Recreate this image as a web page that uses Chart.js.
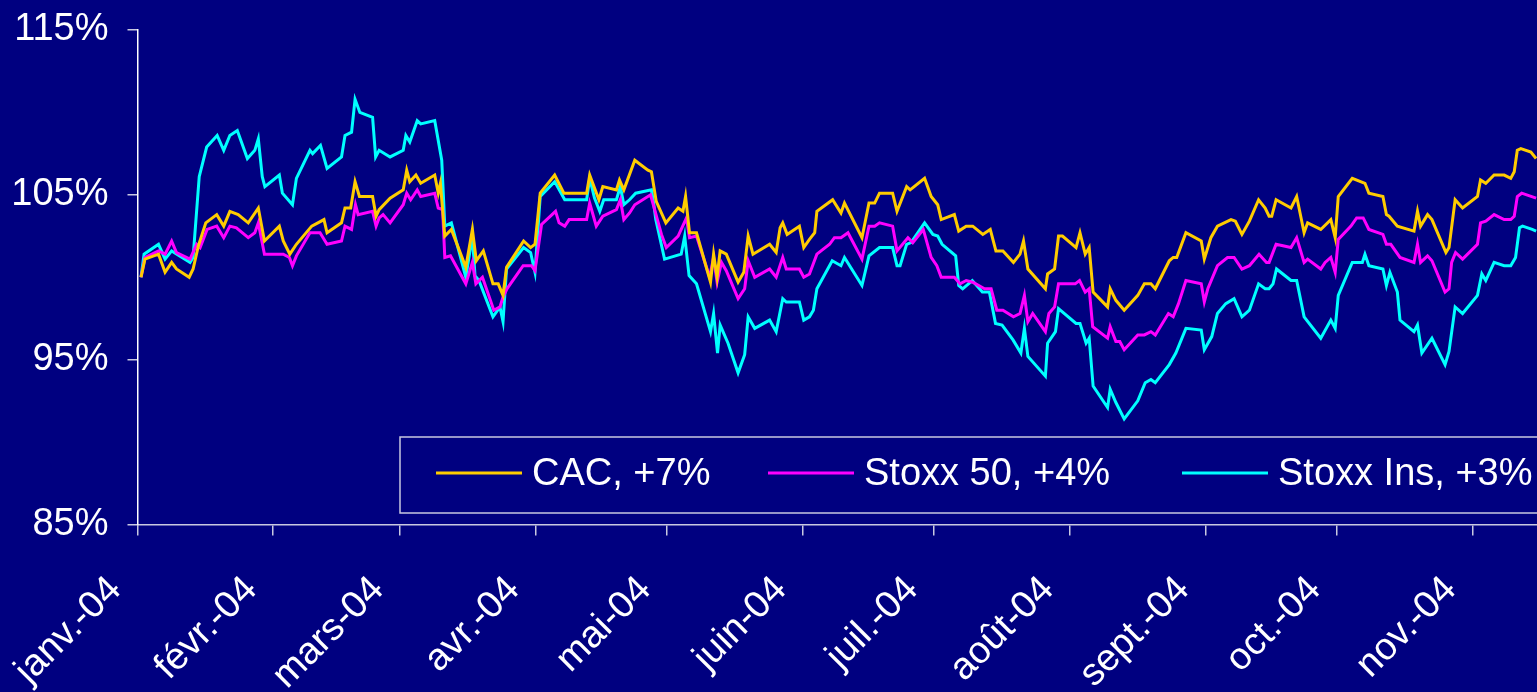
<!DOCTYPE html>
<html>
<head>
<meta charset="utf-8">
<script src="https://cdn.jsdelivr.net/npm/chart.js@4.4.1/dist/chart.umd.min.js"></script>
<style>
  html, body { margin: 0; padding: 0; background: #000080; overflow: hidden; }
  #wrap { width: 1537px; height: 692px; }
</style>
</head>
<body>
<div id="wrap"><canvas id="chart" width="1537" height="692"></canvas></div>
<script>
// ---- data (x = days since 1 Jan 2004, y = index, start = 100) ----
const seriesLabels = ['CAC, +7%', 'Stoxx 50, +4%', 'Stoxx Ins, +3%'];

const monthStarts = [0, 31, 60, 91, 121, 152, 182, 213, 244, 274, 305];
const monthLabels = ['janv.-04', 'févr.-04', 'mars-04', 'avr.-04', 'mai-04', 'juin-04',
                     'juil.-04', 'août-04', 'sept.-04', 'oct.-04', 'nov.-04'];
const yTicks = [85, 95, 105, 115];

const cacDays = [0.8, 1.7, 4.8, 6.3, 7.8, 8.9, 11.8, 12.7, 13.9, 15.6, 18.1, 19.7, 21.1, 23.0, 25.3, 27.6, 29.0, 32.4, 33.3, 34.8,
  36.3, 39.8, 42.6, 43.3, 46.6, 47.4, 48.7, 49.7, 50.7, 53.7, 54.5, 55.2, 57.7, 60.7, 61.5, 62.2, 63.6, 64.7, 67.9, 68.7,
  69.2, 70.2, 71.7, 75.0, 76.5, 77.4, 79.0, 81.2, 82.4, 83.5, 84.3, 88.2, 89.8, 90.8, 92.0, 95.3, 97.4, 102.6, 103.3, 105.4,
  106.3, 109.4, 110.1, 111.1, 113.6, 116.6, 117.4, 118.5, 120.7, 123.5, 124.6, 125.2, 126.1, 127.7, 130.9, 131.6, 132.4, 133.1, 134.5, 137.2,
  138.5, 139.5, 140.6, 144.4, 145.9, 146.8, 147.4, 148.4, 151.2, 152.2, 153.5, 154.7, 155.2, 158.8, 160.7, 161.5, 165.5, 167.1, 168.4, 169.5,
  172.5, 173.5, 175.7, 176.5, 179.8, 181.3, 182.8, 183.6, 186.6, 187.6, 189.3, 190.8, 193.1, 194.8, 196.1, 197.7, 200.1, 201.6, 202.4, 203.4,
  207.4, 207.9, 209.5, 210.4, 211.3, 214.4, 215.3, 216.5, 217.4, 218.3, 221.6, 222.2, 223.5, 225.4, 228.5, 230.0, 231.5, 232.5, 235.7, 236.6,
  237.4, 239.5, 243.0, 243.7, 245.2, 246.7, 249.8, 250.8, 252.3, 254.0, 256.1, 257.6, 258.5, 259.1, 260.1, 263.5, 264.8, 266.5, 267.3, 270.3,
  272.6, 273.6, 274.3, 277.5, 280.4, 281.3, 284.5, 285.3, 285.9, 287.8, 291.6, 292.4, 293.1, 294.7, 295.7, 298.9, 299.6, 301.0, 302.7, 306.1,
  306.8, 308.0, 309.9, 312.2, 313.7, 314.5, 315.2, 316.0, 318.3, 319.5];
const cacValues = [100.0, 101.1, 101.4, 100.3, 100.9, 100.5, 100.0, 100.5, 101.9, 103.3, 103.8, 103.1, 104.0, 103.8, 103.3, 104.2, 102.2, 103.1, 102.2, 101.4,
  102.0, 103.1, 103.5, 102.7, 103.3, 104.2, 104.2, 105.8, 104.9, 104.9, 103.7, 104.1, 104.8, 105.3, 106.5, 105.8, 106.2, 105.7, 106.2, 105.1,
  105.7, 102.5, 102.9, 100.6, 102.9, 101.0, 101.6, 99.6, 99.6, 98.9, 100.6, 102.2, 101.8, 102.0, 105.1, 106.2, 105.1, 105.1, 106.2, 104.7,
  105.5, 105.3, 105.9, 105.3, 107.1, 106.5, 106.4, 104.6, 103.3, 104.2, 104.0, 104.9, 102.7, 102.7, 99.7, 101.4, 100.0, 101.6, 101.4, 99.7,
  100.3, 102.5, 101.4, 102.0, 101.5, 103.0, 103.3, 102.6, 103.1, 101.8, 102.3, 102.7, 104.0, 104.7, 103.9, 104.5, 102.4, 104.5, 104.5, 105.1,
  105.1, 104.0, 105.5, 105.3, 106.0, 104.9, 104.4, 103.5, 103.8, 102.8, 103.1, 103.1, 102.6, 102.9, 101.6, 101.6, 100.9, 101.4, 102.2, 100.5,
  99.3, 100.2, 100.5, 102.5, 102.5, 101.8, 102.7, 101.4, 101.8, 99.1, 98.2, 99.3, 98.6, 98.0, 98.9, 99.6, 99.6, 99.3, 101.0, 101.2,
  101.2, 102.7, 102.2, 101.1, 102.4, 103.1, 103.5, 103.4, 102.6, 103.4, 104.7, 104.2, 103.7, 103.7, 104.7, 104.2, 104.9, 102.7, 103.3, 102.9,
  103.5, 102.4, 104.9, 106.0, 105.7, 105.1, 104.9, 103.8, 103.7, 103.1, 102.8, 104.0, 103.1, 103.8, 103.5, 101.5, 101.8, 104.7, 104.2, 104.9,
  105.9, 105.7, 106.2, 106.2, 106.0, 106.4, 107.7, 107.8, 107.6, 107.2];

const stoxxDays = [0.8, 1.7, 4.8, 6.3, 7.8, 8.9, 12.0, 13.5, 14.3, 15.9, 18.1, 19.7, 21.1, 22.6, 25.3, 26.8, 27.6, 29.0, 33.3, 34.7,
  35.4, 36.3, 39.4, 41.7, 43.3, 46.6, 47.4, 48.9, 49.8, 50.4, 53.7, 54.5, 55.2, 56.1, 57.7, 60.7, 61.5, 62.4, 63.9, 64.7,
  67.9, 68.7, 69.7, 70.2, 71.5, 75.0, 76.5, 77.3, 78.8, 81.4, 82.8, 83.5, 84.4, 88.1, 90.0, 90.8, 92.3, 95.5, 96.3, 97.6,
  98.6, 102.6, 103.3, 104.8, 106.3, 109.4, 110.3, 111.1, 112.4, 113.6, 117.2, 119.7, 120.8, 123.5, 124.2, 125.4, 126.1, 127.7, 130.7, 131.6,
  132.4, 133.4, 134.5, 137.2, 138.7, 139.5, 141.0, 144.4, 145.9, 147.4, 148.2, 151.2, 152.2, 153.5, 155.2, 158.1, 159.2, 160.7, 162.3, 165.5,
  167.1, 168.4, 169.5, 172.5, 173.5, 176.0, 177.1, 179.5, 181.3, 182.6, 183.6, 186.6, 187.9, 189.3, 190.8, 193.5, 195.0, 196.3, 197.7, 200.1,
  201.6, 202.6, 203.4, 204.5, 207.4, 208.2, 209.5, 210.4, 214.2, 215.2, 216.5, 217.4, 218.2, 221.6, 222.2, 223.5, 224.4, 225.4, 228.5, 230.0,
  231.5, 232.5, 235.5, 236.6, 237.8, 239.5, 243.0, 243.7, 244.5, 246.7, 249.0, 250.5, 252.3, 254.0, 256.2, 257.9, 258.5, 260.1, 263.5, 264.8,
  266.5, 267.3, 270.3, 271.3, 272.6, 273.6, 274.3, 277.2, 278.5, 280.0, 281.3, 284.5, 285.3, 286.3, 288.4, 291.6, 292.4, 293.1, 294.7, 295.7,
  298.7, 299.6, 300.2, 301.1, 302.7, 306.1, 306.8, 308.0, 309.9, 312.2, 313.7, 314.5, 315.2, 316.2, 319.5];
const stoxxValues = [100.0, 101.2, 101.6, 101.4, 102.2, 101.5, 101.1, 102.0, 101.8, 102.9, 103.1, 102.4, 103.1, 103.0, 102.4, 102.7, 103.3, 101.4, 101.4, 101.2,
  100.7, 101.3, 102.7, 102.7, 102.0, 102.2, 103.1, 102.9, 104.4, 103.8, 104.0, 103.1, 103.6, 103.8, 103.3, 104.4, 105.1, 104.7, 105.3, 104.9,
  105.1, 104.2, 104.1, 101.2, 101.3, 99.6, 100.9, 99.6, 100.0, 98.0, 98.2, 98.8, 99.3, 100.7, 100.7, 100.4, 103.2, 104.0, 103.3, 103.1,
  103.5, 103.5, 104.5, 103.1, 103.7, 104.1, 104.7, 103.5, 103.9, 104.4, 105.0, 102.6, 101.8, 102.5, 102.9, 103.6, 102.4, 102.5, 100.0, 101.2,
  99.7, 100.9, 100.4, 98.7, 99.3, 101.0, 100.0, 100.5, 100.0, 101.2, 100.5, 100.5, 100.0, 100.2, 101.4, 102.0, 102.4, 102.4, 102.7, 101.1,
  103.1, 103.1, 103.3, 103.1, 101.6, 102.4, 102.1, 102.9, 101.2, 100.7, 100.0, 100.0, 99.6, 99.8, 99.7, 99.3, 99.3, 98.0, 98.0, 97.6,
  97.8, 98.9, 97.3, 97.8, 96.7, 97.8, 98.2, 99.6, 99.6, 99.8, 99.1, 99.3, 97.0, 96.3, 97.0, 96.1, 96.1, 95.6, 96.5, 96.5,
  96.7, 96.5, 97.8, 97.6, 98.4, 99.8, 99.6, 98.5, 99.3, 100.7, 101.2, 101.2, 100.5, 100.7, 101.4, 100.9, 100.9, 102.0, 101.8, 102.4,
  100.9, 101.1, 100.5, 100.9, 101.2, 100.3, 102.3, 103.1, 103.6, 103.6, 102.9, 102.6, 102.0, 102.0, 101.2, 100.9, 102.0, 100.9, 101.3, 101.0,
  99.1, 99.3, 100.9, 101.5, 101.1, 102.0, 103.3, 103.4, 103.8, 103.5, 103.5, 103.7, 104.9, 105.1, 104.8];

const insDays = [0.8, 1.5, 4.8, 6.3, 7.8, 12.0, 12.7, 14.1, 15.8, 18.2, 19.7, 21.1, 22.8, 25.1, 26.8, 27.6, 28.5, 29.1, 32.4, 33.1,
  35.4, 36.3, 39.4, 40.0, 41.8, 43.3, 46.6, 47.4, 48.9, 49.7, 50.8, 53.7, 54.4, 55.2, 57.7, 60.7, 61.3, 62.2, 63.9, 64.7,
  67.9, 69.5, 70.2, 71.7, 75.0, 76.5, 77.1, 78.0, 81.2, 82.8, 83.5, 84.3, 88.2, 89.8, 90.8, 92.0, 95.3, 97.6, 102.6, 103.3,
  104.4, 105.6, 106.5, 109.4, 110.3, 111.1, 112.4, 113.8, 117.4, 117.9, 118.4, 120.4, 124.2, 125.0, 126.0, 127.7, 130.9, 131.6, 132.5, 133.1,
  134.9, 137.2, 138.7, 139.5, 141.0, 144.4, 145.9, 147.4, 148.2, 151.2, 152.2, 153.5, 154.4, 155.2, 158.7, 160.7, 161.5, 165.5, 167.1, 169.5,
  172.5, 173.5, 174.2, 175.7, 176.7, 179.8, 181.7, 182.8, 183.8, 186.9, 187.6, 188.5, 190.7, 193.0, 194.6, 196.0, 197.5, 200.0, 201.8, 202.6,
  203.4, 207.4, 207.9, 209.7, 210.4, 214.4, 215.3, 216.7, 217.4, 218.3, 221.6, 222.2, 223.5, 225.4, 228.5, 230.2, 231.5, 232.5, 235.7, 237.2,
  239.5, 243.0, 243.7, 245.4, 246.7, 248.6, 250.5, 252.3, 254.0, 256.1, 257.6, 258.5, 259.4, 260.2, 263.5, 264.8, 266.5, 270.3, 272.6, 273.6,
  274.3, 277.5, 279.8, 280.4, 281.3, 284.5, 285.3, 286.1, 287.8, 288.4, 291.6, 292.4, 293.4, 295.7, 298.7, 299.6, 301.0, 302.7, 306.1, 307.1,
  308.0, 309.9, 312.2, 313.7, 314.8, 315.7, 316.4, 318.6, 319.5];
const insValues = [100.0, 101.4, 102.0, 101.1, 101.6, 100.9, 101.2, 106.1, 107.9, 108.6, 107.7, 108.6, 108.9, 107.2, 107.7, 108.4, 106.1, 105.5, 106.2, 105.1,
  104.4, 106.0, 107.7, 107.5, 108.0, 106.6, 107.3, 108.6, 108.8, 110.8, 110.0, 109.7, 107.3, 107.7, 107.3, 107.7, 108.6, 108.2, 109.5, 109.3,
  109.5, 107.1, 103.1, 103.3, 100.0, 102.5, 100.1, 99.8, 97.6, 98.2, 97.3, 100.5, 101.8, 101.5, 100.3, 104.9, 105.8, 104.7, 104.7, 106.0,
  104.8, 104.0, 104.7, 104.7, 105.5, 104.4, 104.7, 105.1, 105.3, 104.5, 103.5, 101.1, 101.4, 102.5, 100.1, 99.6, 96.7, 97.8, 95.4, 97.1,
  96.0, 94.2, 95.3, 97.6, 96.9, 97.4, 96.7, 98.7, 98.5, 98.5, 97.4, 97.6, 98.0, 99.3, 101.0, 100.7, 101.2, 99.5, 101.3, 101.8,
  101.8, 100.7, 100.7, 102.0, 102.1, 103.3, 102.6, 102.5, 102.0, 101.3, 99.5, 99.3, 99.8, 99.1, 99.1, 97.2, 97.1, 96.2, 95.4, 96.9,
  95.2, 94.0, 96.0, 96.7, 98.1, 97.2, 97.2, 96.0, 96.3, 93.4, 92.1, 93.2, 92.4, 91.4, 92.5, 93.6, 93.8, 93.6, 94.7, 95.4,
  96.9, 96.8, 95.6, 96.4, 97.8, 98.4, 98.7, 97.6, 98.0, 99.6, 99.3, 99.3, 99.6, 100.5, 99.8, 99.8, 97.6, 96.3, 97.4, 96.9,
  98.9, 100.9, 100.9, 101.4, 100.7, 100.5, 99.5, 100.3, 99.1, 97.4, 96.7, 97.1, 95.4, 96.3, 94.7, 95.5, 98.2, 97.8, 98.9, 100.2,
  99.8, 100.9, 100.7, 100.7, 101.2, 103.0, 103.1, 102.9, 102.8];

const seriesColors = ['#ffcc00', '#ff00ff', '#00ffff'];

// ---- helpers ----
const FONT = '"Liberation Sans", Arial, sans-serif';
const toPoints = (days, vals) => days.map((d, i) => ({ x: d, y: vals[i] }));

// legend drawn as a framed box under the lines, running off the right edge
const legendBox = {
  id: 'legendBox',
  afterDatasetsDraw(chart) {
    const c = chart.ctx;
    const startX = [436, 768, 1182];
    c.save();
    c.strokeStyle = '#c8c8e0';
    c.lineWidth = 1.5;
    c.strokeRect(400, 437, 1300, 76);
    c.font = '38px ' + FONT;
    c.fillStyle = '#ffffff';
    c.textBaseline = 'alphabetic';
    chart.data.datasets.forEach((ds, i) => {
      c.strokeStyle = ds.borderColor;
      c.lineWidth = 3;
      c.beginPath();
      c.moveTo(startX[i], 473);
      c.lineTo(startX[i] + 86, 473);
      c.stroke();
      c.fillText(ds.label, startX[i] + 96, 485);
    });
    c.restore();
  }
};

const ctx = document.getElementById('chart').getContext('2d');
new Chart(ctx, {
  type: 'line',
  data: {
    datasets: [
      { label: seriesLabels[0], data: toPoints(cacDays, cacValues), borderColor: seriesColors[0] },
      { label: seriesLabels[1], data: toPoints(stoxxDays, stoxxValues), borderColor: seriesColors[1] },
      { label: seriesLabels[2], data: toPoints(insDays, insValues), borderColor: seriesColors[2] }
    ].map(ds => Object.assign(ds, { borderWidth: 3, pointRadius: 0, tension: 0, fill: false }))
  },
  options: {
    responsive: false,
    animation: false,
    layout: { padding: { top: 30, right: 0, bottom: 0, left: 0 } },
    plugins: { legend: { display: false }, tooltip: { enabled: false } },
    scales: {
      x: {
        type: 'linear',
        min: 0,
        max: 319.7,
        afterBuildTicks: s => { s.ticks = monthStarts.map(v => ({ value: v })); },
        afterFit: s => { s.height = 167.5; },
        ticks: {
          autoSkip: false,
          minRotation: 45,
          maxRotation: 45,
          padding: 32,
          labelOffset: -22,
          color: '#ffffff',
          font: { family: FONT, size: 38 },
          callback: (v, i) => monthLabels[i]
        },
        grid: { drawOnChartArea: false, tickLength: 11, color: '#c8c8e0', lineWidth: 1.5 },
        border: { color: '#c8c8e0', width: 1.5 }
      },
      y: {
        min: 85,
        max: 115,
        afterBuildTicks: s => { s.ticks = yTicks.map(v => ({ value: v })); },
        afterFit: s => { s.width = 137.5; s.paddingTop = 0; s.paddingBottom = 0; },
        ticks: {
          padding: 19,
          color: '#ffffff',
          font: { family: FONT, size: 38 },
          callback: v => v + '%'
        },
        grid: { drawOnChartArea: false, tickLength: 10, color: '#c8c8e0', lineWidth: 1.5 },
        border: { color: '#ffffff', width: 1.5 }
      }
    }
  },
  plugins: [legendBox]
});
</script>
</body>
</html>
